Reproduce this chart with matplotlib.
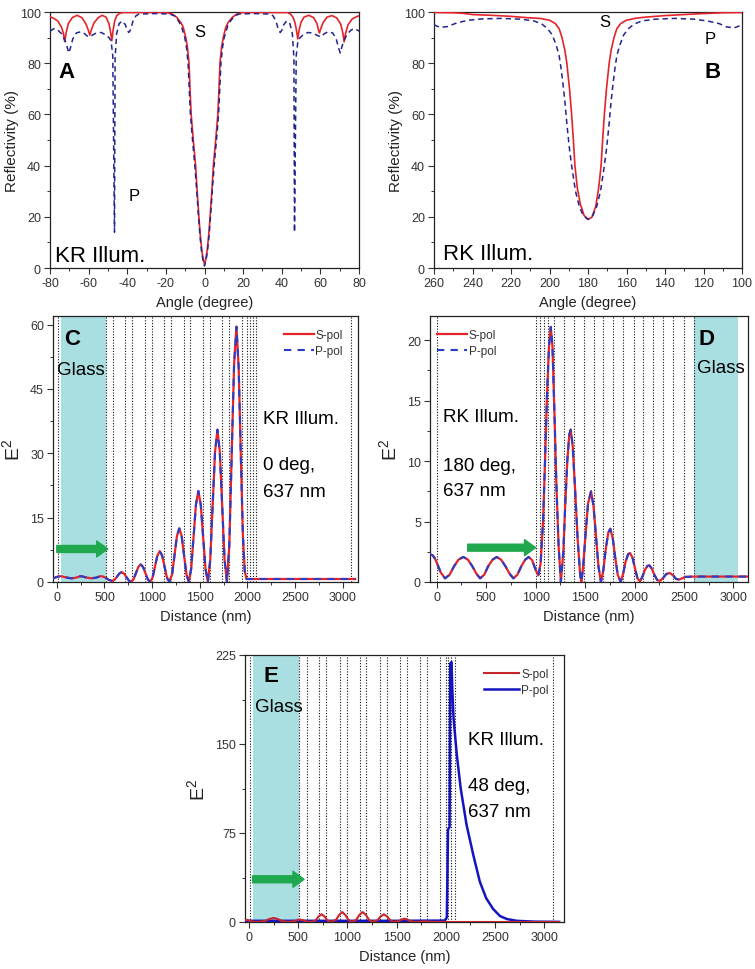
import matplotlib
matplotlib.use("Agg")
import matplotlib.pyplot as plt
from matplotlib.patches import FancyArrowPatch

plt.rcParams['font.family'] = ['Liberation Sans', 'DejaVu Sans']
plt.rcParams['mathtext.fontset'] = 'custom'
plt.rcParams['mathtext.rm'] = 'Liberation Sans'
plt.rcParams['axes.unicode_minus'] = False

# ---- panel A : reflectivity, KR illumination ----
a_ang_s = [-80, -78, -76, -74, -73, -72.4, -71.6, -70.5, -68.5, -66, -63.5, -61.5, -60.2, -59.4,
           -58.6, -57.2, -55, -53, -51, -49.5, -48.6, -48, -47.3, -46.5, -45.5, -44, -42, -30,
           -20, -17, -14.5, -12.3, -11, -9.7, -8.8, -8.0, -7.5, -6.9, -5.8, -4.6, -3.8, -2.9,
           -2.2, -1.4, -0.7, 0, 0.7, 1.4, 2.2, 2.9, 3.8, 4.6, 5.8, 6.9, 7.5, 8.0, 8.8, 9.7,
           11, 12.3, 14.5, 17, 20, 30, 43, 44.5, 45.8, 46.8, 47.6, 48.3, 49, 50, 51.5, 54,
           56.5, 58.2, 59, 59.5, 60.2, 61.5, 63.5, 66, 68.5, 70.5, 71.6, 72.3, 73, 74.3, 76.5,
           78.8, 80]
a_ref_s = [98.2, 97.5, 96.5, 94, 91.5, 88.5, 92, 95.5, 97.8, 98.7, 97.8, 95.5, 93, 91,
           93, 95.8, 97.8, 98.7, 98, 95.5, 92, 88.8, 93, 96.5, 98.5, 99.5, 99.8, 99.8,
           99.8, 99.3, 98, 96, 94, 90, 86, 80, 70, 60, 50, 40, 30, 20,
           13, 7, 3.5, 1.5, 3.5, 7, 13, 20, 30, 40, 50, 60, 70, 80, 86, 90,
           94, 96, 98, 99.3, 99.8, 99.8, 99.8, 99.2, 98, 96, 93, 89.5, 93, 96, 98, 98.7,
           97.8, 95.5, 93, 91.8, 93.5, 96, 98, 98.6, 97.7, 95.3, 92, 88.3, 91.5, 95, 97.3,
           98.2, 98.5]
a_ang_p = [-80, -78, -76, -74, -72, -71, -70.3, -69.4, -68.2, -66.4, -64, -62, -60.3, -58.5,
           -56, -53.5, -51, -49.5, -48.4, -47.5, -46.6, -46.3, -45.5, -44.2, -42.5, -41, -40,
           -39.2, -38.3, -37, -35.5, -34, -25, -18, -15.5, -13.5, -12, -11.2, -10.2, -9.3,
           -8.5, -7.9, -7.3, -6.2, -5.0, -4.0, -3.1, -2.4, -1.6, -0.8, 0, 0.8, 1.6, 2.4, 3.1,
           4.0, 5.0, 6.2, 7.3, 7.9, 8.5, 9.3, 10.2, 11.2, 12, 13.5, 15.5, 18, 25, 34, 35.5,
           37, 38.3, 39.2, 40, 41, 42.5, 44.2, 45.5, 46.3, 46.6, 47.5, 48.4, 49.5, 51, 53.5,
           56, 58.5, 60.3, 62, 64, 66.4, 68.2, 69.4, 70.3, 71, 72, 74, 76, 78, 80]
a_ref_p = [92.5, 93.5, 93, 91.5, 88.5, 86, 84, 86, 89.5, 91.8, 92.3, 91.5, 90.3, 90.8,
           91.8, 92, 91, 90, 88.8, 83, 14, 82, 91.5, 95.5, 96.5, 95, 92.8,
           92, 93, 96.5, 98.5, 99.2, 99.4, 99.2, 98.5, 96.5, 94.5, 92.5, 90, 86,
           80, 70, 60, 50, 40, 30, 20, 13, 7, 3, 0.8, 3, 7, 13, 20,
           30, 40, 50, 60, 70, 80, 86, 90, 92.5, 94.5, 96.5, 98.5, 99.2, 99.4, 99.2, 98.5,
           96.5, 93, 92, 92.8, 95, 96.5, 95.5, 91.5, 82, 14, 83, 88.8, 90, 91, 92,
           91.8, 90.8, 90.3, 91.5, 92.3, 91.8, 89.5, 86, 84, 86, 88.5, 91.5, 93, 93.5, 92.5]

# ---- panel B : reflectivity, RK illumination ----
b_ang_s = [260, 250, 245, 240, 230, 220, 212, 205, 200, 197, 195, 193.5, 192, 191, 189.6,
           188.5, 187.6, 186.8, 185.5, 184, 182, 180, 178, 176, 174.5, 173.2, 172.4, 171.5,
           170.4, 169.0, 168.0, 166.5, 165, 163, 160, 155, 150, 140, 130, 120, 110, 100]
b_ref_s = [99.8, 99.7, 99.5, 99.0, 98.7, 98.3, 97.8, 97.5, 96.8, 95.5, 93.5, 90, 85, 80, 70,
           60, 50, 40, 31, 25, 20.5, 19, 19.8, 24, 31, 40, 50, 60,
           70, 80, 85, 90, 93.5, 95.5, 96.8, 97.6, 98, 98.6, 99.0, 99.4, 99.7, 99.8]
b_ang_p = [260, 257, 253, 248, 242, 235, 225, 215, 208, 204, 201, 198.5, 196.5, 195, 194, 193,
           192, 190.8, 189.7, 188.5, 186.5, 184.5, 182.5, 180, 177.5, 175.5, 173.5, 171.5,
           170.3, 169.2, 168, 167, 166, 165, 163.5, 161.5, 159, 156, 152, 145, 135, 125, 118,
           112, 108, 104, 100]
b_ref_p = [95, 94, 94.3, 95.8, 96.8, 97.3, 97.5, 97.2, 96.5, 95.3, 93.5, 91, 87, 83, 78, 72,
           65, 55, 47, 40, 30, 24, 20.5, 19, 20.5, 24, 30, 40,
           47, 55, 65, 72, 78, 83, 87, 91, 93.5, 95.3, 96.5, 97.2, 97.5, 97.2, 96.5,
           95.5, 94.2, 93.8, 95]

# ---- panel C : field intensity, KR, 0 deg ----
c_dist = [-40, -10, 20, 45, 90, 150, 200, 240, 260, 300, 360, 410, 450, 475, 510, 545, 580,
          605, 630, 655, 680, 705, 730, 755, 780,
          805, 830, 855, 880, 905, 930, 955, 980,
          1005, 1030, 1055, 1080, 1105, 1130, 1155, 1180,
          1210, 1235, 1260, 1285, 1310, 1335, 1360, 1385,
          1410, 1435, 1460, 1485, 1510, 1535, 1560, 1585,
          1610, 1635, 1660, 1685, 1710, 1735, 1760, 1785,
          1810, 1835, 1860, 1885, 1908, 1930, 1952, 1972, 1990, 2100, 2500, 3130]
c_e2 = [0.8, 1.1, 1.3, 1.35, 1.1, 0.85, 1.0, 1.3, 1.35, 1.1, 0.85, 1.0, 1.3, 1.35, 1.0, 0.5, 0.25,
        0.5, 1.2, 1.95, 2.3, 1.95, 1.15, 0.35, 0.05,
        0.6, 2.05, 3.5, 4.1, 3.5, 2.05, 0.6, 0.0,
        1.05, 3.6, 6.15, 7.2, 6.15, 3.6, 1.05, 0.0,
        1.8, 6.25, 10.7, 12.5, 10.7, 6.25, 1.8, 0.0,
        3.1, 10.6, 18.1, 21.2, 18.1, 10.6, 3.1, 0.0,
        5.2, 17.8, 30.3, 35.5, 30.3, 17.8, 5.2, 0.0,
        8.7, 29.8, 50.8, 59.5, 50, 30, 11, 2.5, 0.7, 0.7, 0.7, 0.7]
c_s = c_e2
c_p = c_e2

# ---- panel D : field intensity, RK, 180 deg ----
d_dist = [-70, -40, -15, 10, 40, 84, 130, 175, 220, 269, 315, 360, 400, 438, 480, 520, 565, 607,
          650, 695, 735, 775, 815, 855, 895, 930, 965, 1000, 1027, 1050, 1075, 1095, 1115,
          1135, 1153, 1170, 1190, 1210, 1232, 1255, 1280, 1300, 1320, 1340, 1355, 1375,
          1400, 1425, 1450, 1462, 1480, 1505, 1530, 1560, 1585, 1610, 1635, 1660, 1685,
          1710, 1735, 1755, 1780, 1805, 1830, 1860, 1885, 1910, 1935, 1955, 1980, 2005,
          2030, 2055, 2080, 2105, 2130, 2150, 2175, 2200, 2230, 2260, 2290, 2320, 2355,
          2390, 2420, 2450, 2480, 2510, 2600, 3150]
d_e2 = [2.3, 2.2, 1.9, 1.4, 0.8, 0.3, 0.6, 1.3, 1.85, 2.07, 1.85, 1.3, 0.7, 0.3, 0.6, 1.3, 1.85, 2.07,
        1.85, 1.3, 0.7, 0.3, 0.6, 1.3, 1.85, 2.07, 1.8, 1.0, 0.55, 1.5, 5, 10, 15.5,
        19.5, 21.1, 19.5, 14, 8, 3, 0, 2.5, 6.5, 10, 12.2, 12.6, 11.2,
        7.5, 3.5, 0.6, 0, 1.2, 4.0, 6.5, 7.5, 6.3, 3.8, 1.3, 0, 1.0,
        2.8, 4.1, 4.4, 3.6, 2.0, 0.6, 0, 0.7, 1.7, 2.3, 2.4, 2.0, 1.1,
        0.3, 0.05, 0.45, 1.0, 1.33, 1.37, 1.1, 0.6, 0.15, 0.1, 0.35, 0.65, 0.75,
        0.55, 0.25, 0.2, 0.3, 0.42, 0.45, 0.45]
d_s = d_e2
d_p = d_e2

# ---- panel E : field intensity, KR, 48 deg ----
e_dist_s = [-40, -20, 0, 40, 100, 160, 210, 250, 290, 340, 400, 460, 495, 520, 550, 590, 640,
            680, 705, 738, 770, 795, 830, 885, 915, 948, 980, 1010, 1040, 1090, 1120, 1155,
            1190, 1220, 1250, 1305, 1335, 1370, 1405, 1435, 1465, 1520, 1550, 1580, 1610,
            1640, 1680, 1740, 1790, 1840, 1900, 2000, 3150]
e_s = [1.5, 1.8, 1.2, 0.3, 0.1, 0.8, 2.6, 3.4, 2.6, 0.7, 0.1, 0.6, 1.8, 2.0, 1.5, 0.3, 0.1,
       1.5, 4.5, 6.5, 4.5, 1.5, 0.1, 1.8, 5.8, 8.4, 5.8, 1.8, 0.1, 1.8, 5.8, 8.4,
       5.8, 1.8, 0.1, 1.5, 4.5, 6.5, 4.5, 1.5, 0.1, 0.7, 2.0, 2.8, 2.0,
       0.7, 0.1, 0.3, 0.6, 0.2, 0.1, 0.0, 0.0]
e_dist_p = [-40, 500, 1000, 1500, 1990, 2010, 2022, 2038, 2045, 2058, 2066, 2078, 2110, 2150,
            2210, 2280, 2345, 2410, 2480, 2550, 2620, 2720, 2900, 3150]
e_p = [1.0, 1.0, 1.0, 1.0, 1.2, 4, 78, 80, 218, 219, 195, 172, 142, 113,
       82, 56, 34, 20, 11, 5, 2.5, 1.0, 0.3, 0.1]

# layer boundaries and glass
kr_layers = [15, 512, 585, 715, 787, 920, 995, 1125, 1193, 1330, 1398, 1535, 1604, 1738,
             1810, 1945, 2000, 2025, 2055, 2088, 3085]
rk_layers = [0, 1005, 1045, 1085, 1130, 1185, 1285, 1385, 1485, 1585, 1685, 1785, 1885,
             1990, 2090, 2190, 2290, 2390, 2495, 2600]
kr_glass = (45, 512)
rk_glass = (2605, 3050)

RED = '#e4232a'
RED_E = '#c8262a'
NAVY = '#24248e'
BLUE = '#2a3cc8'
BLUE_E = '#1414c0'
GLASS = '#a9dfe1'
GREEN = '#1fa84e'
TXT = '#222222'

fig = plt.figure(figsize=(7.55, 9.70), dpi=100)
W, H = 755.0, 970.0


def box(l, t, r, b):
    return [l / W, 1 - b / H, (r - l) / W, (b - t) / H]


axA = fig.add_axes(box(50, 13, 359, 269))
axB = fig.add_axes(box(434, 13, 742, 269))
axC = fig.add_axes(box(53, 317, 358, 583))
axD = fig.add_axes(box(430, 317, 748, 583))
axE = fig.add_axes(box(245, 656, 564, 923))


def style(ax, xmaj, xmin, ymaj, ymin):
    ax.xaxis.set_major_locator(plt.MultipleLocator(xmaj))
    ax.xaxis.set_minor_locator(plt.MultipleLocator(xmin))
    ax.yaxis.set_major_locator(plt.MultipleLocator(ymaj))
    ax.yaxis.set_minor_locator(plt.MultipleLocator(ymin))
    ax.tick_params(which='major', direction='out', length=4, width=0.8, pad=2.5,
                   labelsize=9, labelcolor='#333333', color='#333333')
    ax.tick_params(which='minor', direction='out', length=2.5, width=0.7, color='#333333')
    for sp in ax.spines.values():
        sp.set_linewidth(0.9)
        sp.set_color('#222222')


def arrow(ax, x0, x1, y):
    ar = FancyArrowPatch((x0, y), (x1, y), arrowstyle='simple,head_width=1.15,head_length=0.8,tail_width=0.5',
                         mutation_scale=10, color=GREEN, shrinkA=0, shrinkB=0, zorder=5)
    ax.add_patch(ar)


# A
axA.plot(a_ang_s, a_ref_s, color=RED, lw=1.2, zorder=3)
axA.plot(a_ang_p, a_ref_p, color=NAVY, lw=1.1, ls=(0, (3.5, 2.5)), zorder=4)
axA.set_xlim(-80, 80)
axA.set_ylim(0, 100)
style(axA, 20, 10, 20, 10)
axA.set_xlabel('Angle (degree)', fontsize=10.5, color=TXT)
axA.set_ylabel('Reflectivity (%)', fontsize=11, color=TXT, labelpad=1)
axA.text(-75.5, 76.8, 'A', fontsize=16, fontweight='bold', ha='left', va='center')
axA.text(-2.3, 92.4, 'S', fontsize=12, ha='center', va='center')
axA.text(-36.5, 28.3, 'P', fontsize=12, ha='center', va='center')
axA.text(-77.5, 5.0, 'KR Illum.', fontsize=16, ha='left', va='center')

# B
axB.plot(b_ang_s, b_ref_s, color=RED, lw=1.2, zorder=3)
axB.plot(b_ang_p, b_ref_p, color=NAVY, lw=1.1, ls=(0, (3.5, 2.5)), zorder=4)
axB.set_xlim(260, 100)
axB.set_ylim(0, 100)
style(axB, 20, 10, 20, 10)
axB.set_xlabel('Angle (degree)', fontsize=10.5, color=TXT)
axB.set_ylabel('Reflectivity (%)', fontsize=11, color=TXT, labelpad=1)
axB.text(115.4, 76.7, 'B', fontsize=16, fontweight='bold', ha='center', va='center')
axB.text(171.2, 96.4, 'S', fontsize=12, ha='center', va='center')
axB.text(116.6, 89.7, 'P', fontsize=12, ha='center', va='center')
axB.text(255.2, 5.6, 'RK Illum.', fontsize=16, ha='left', va='center')

# C
axC.axvspan(kr_glass[0], kr_glass[1], color=GLASS, lw=0, zorder=0)
for xv in kr_layers:
    axC.axvline(xv, color='#111111', lw=0.8, ls=(0, (1, 1.5)), zorder=1)
axC.plot(c_dist, c_s, color=RED, lw=1.6, zorder=3, label='S-pol')
axC.plot(c_dist, c_p, color=BLUE, lw=1.5, ls=(0, (3.5, 3)), zorder=4, label='P-pol')
axC.set_xlim(-40, 3160)
axC.set_ylim(0, 62)
style(axC, 500, 250, 15, 7.5)
axC.set_xlabel('Distance (nm)', fontsize=10.5, color=TXT)
axC.set_ylabel(r'$\mathrm{E}^2$', fontsize=14, color=TXT)
axC.legend(loc='upper right', bbox_to_anchor=(0.985, 0.99), frameon=False, fontsize=8.5,
           handlelength=2.5, handletextpad=0.15, labelspacing=0.3, labelcolor='#333333')
axC.text(157, 56.7, 'C', fontsize=16, fontweight='bold', ha='center', va='center')
axC.text(5, 49.6, 'Glass', fontsize=13.5, ha='left', va='center')
axC.text(2166, 38.2, 'KR Illum.', fontsize=13.5, ha='left', va='center')
axC.text(2166, 27.3, '0 deg,', fontsize=13.5, ha='left', va='center')
axC.text(2166, 21.1, '637 nm', fontsize=13.5, ha='left', va='center')
arrow(axC, 0, 535, 7.7)

# D
axD.axvspan(rk_glass[0], rk_glass[1], color=GLASS, lw=0, zorder=0)
for xv in rk_layers:
    axD.axvline(xv, color='#111111', lw=0.8, ls=(0, (1, 1.5)), zorder=1)
axD.plot(d_dist, d_s, color=RED, lw=1.6, zorder=3, label='S-pol')
axD.plot(d_dist, d_p, color=BLUE, lw=1.5, ls=(0, (3.5, 3)), zorder=4, label='P-pol')
axD.set_xlim(-68, 3147)
axD.set_ylim(0, 22)
style(axD, 500, 250, 5, 2.5)
axD.set_xlabel('Distance (nm)', fontsize=10.5, color=TXT)
axD.set_ylabel(r'$\mathrm{E}^2$', fontsize=14, color=TXT)
axD.legend(loc='upper left', bbox_to_anchor=(-0.01, 0.99), frameon=False, fontsize=8.5,
           handlelength=2.5, handletextpad=0.15, labelspacing=0.3, labelcolor='#333333')
axD.text(2645, 20.1, 'D', fontsize=16, fontweight='bold', ha='left', va='center')
axD.text(2629, 17.7, 'Glass', fontsize=13.5, ha='left', va='center')
axD.text(67, 13.7, 'RK Illum.', fontsize=13.5, ha='left', va='center')
axD.text(67, 9.65, '180 deg,', fontsize=13.5, ha='left', va='center')
axD.text(67, 7.6, '637 nm', fontsize=13.5, ha='left', va='center')
arrow(axD, 313, 1000, 2.84)

# E
axE.axvspan(kr_glass[0], kr_glass[1], color=GLASS, lw=0, zorder=0)
for xv in kr_layers:
    axE.axvline(xv, color='#111111', lw=0.8, ls=(0, (1, 1.5)), zorder=1)
axE.plot(e_dist_p, e_p, color=BLUE_E, lw=1.8, zorder=3, label='P-pol')
axE.plot(e_dist_s, e_s, color=RED_E, lw=1.5, zorder=4, label='S-pol')
axE.set_xlim(-40, 3200)
axE.set_ylim(0, 225)
style(axE, 500, 250, 75, 37.5)
axE.set_xlabel('Distance (nm)', fontsize=10.5, color=TXT)
axE.set_ylabel(r'$\mathrm{E}^2$', fontsize=14, color=TXT)
h, l = axE.get_legend_handles_labels()
axE.legend(h[::-1], l[::-1], loc='upper right', bbox_to_anchor=(0.985, 0.99), frameon=False,
           fontsize=8.5, handlelength=3.0, handletextpad=0.15, labelspacing=0.3,
           labelcolor='#333333')
axE.text(145, 207.6, 'E', fontsize=16, fontweight='bold', ha='left', va='center')
axE.text(61, 181.8, 'Glass', fontsize=13.5, ha='left', va='center')
axE.text(2227, 154, 'KR Illum.', fontsize=13.5, ha='left', va='center')
axE.text(2227, 114.8, '48 deg,', fontsize=13.5, ha='left', va='center')
axE.text(2227, 92.8, '637 nm', fontsize=13.5, ha='left', va='center')
arrow(axE, 38, 560, 36)

fig.savefig('out.png', dpi=100)
